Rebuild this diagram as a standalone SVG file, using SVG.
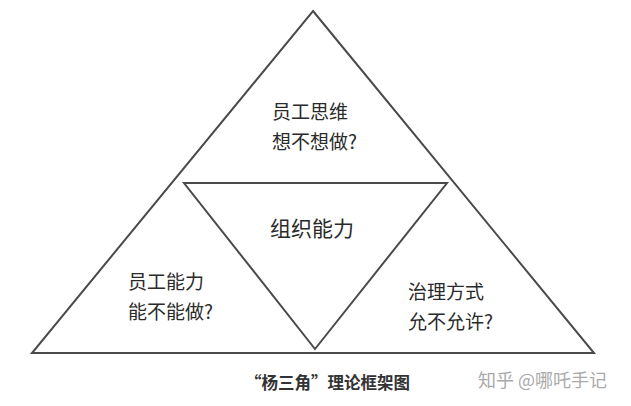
<svg xmlns="http://www.w3.org/2000/svg" width="631" height="406" viewBox="0 0 631 406">
<style>
.ln{fill:none;stroke:#4a4a4a;stroke-width:2;stroke-linejoin:miter}
.t{font-family:"Noto Sans CJK SC","Noto Sans",sans-serif;font-size:19px;fill:#2a2a2a}
.c{font-family:"Noto Sans CJK SC","Noto Sans",sans-serif;font-size:16.5px;font-weight:bold;fill:#333}
.w{font-family:"Noto Sans CJK SC","Noto Sans",sans-serif;font-size:18px;fill:#aaa}
</style>
<rect width="631" height="406" fill="#fff"/>
<g id="connectors">
<polygon class="ln" points="313,11 594,353 32,353"/>
<polygon class="ln" points="184,183 447,183 315,349"/>
</g>
<g id="top">
<text class="t" x="272" y="119">员工思维</text>
<text class="t" x="272" y="149">想不想做?</text>
</g>
<g id="center">
<text class="t" x="270" y="236" style="font-size:21px">组织能力</text>
</g>
<g id="left">
<text class="t" x="128" y="289">员工能力</text>
<text class="t" x="128" y="319">能不能做?</text>
</g>
<g id="right">
<text class="t" x="408" y="299">治理方式</text>
<text class="t" x="408" y="329">允不允许?</text>
</g>
<g id="caption">
<text class="c" x="245" y="389">“杨三角”理论框架图</text>
</g>
<g id="watermark">
<text class="w" x="478" y="387">知乎 @哪吒手记</text>
</g>
</svg>
